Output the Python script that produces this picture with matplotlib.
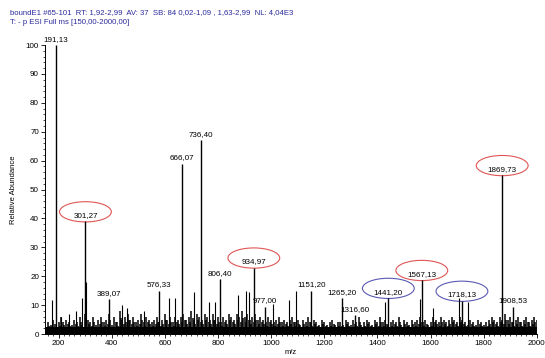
import numpy as np
import matplotlib.pyplot as plt
from matplotlib.patches import Ellipse
from matplotlib.ticker import MultipleLocator

plt.rcParams['font.family'] = ['Liberation Sans', 'DejaVu Sans']

# labelled peaks (m/z, relative abundance)
label_mz = [191.13, 301.27, 389.07, 576.33, 666.07, 736.40, 806.40, 934.97, 977.00,
            1151.20, 1265.20, 1316.60, 1441.20, 1567.13, 1718.13, 1869.73, 1908.53]
label_int = [100, 39, 12, 15, 59, 67, 19, 23, 9.5,
             15, 12.5, 6.5, 12.5, 18.7, 11.5, 55, 9.5]
label_txt = ['191,13', '301,27', '389,07', '576,33', '666,07', '736,40', '806,40', '934,97', '977,00',
             '1151,20', '1265,20', '1316,60', '1441,20', '1567,13', '1718,13', '1869,73', '1908,53']
red_marked = ['301,27', '934,97', '1567,13', '1869,73']
blue_marked = ['1441,20', '1718,13']

# unlabelled minor peaks
minor_mz = [175, 210, 240, 265, 290, 304, 438, 456, 523, 617, 637, 711, 768, 787,
            875, 906, 918, 1007, 1068, 1094, 1430, 1562, 1611, 1706, 1740]
minor_int = [11.8, 6, 7, 8, 12.5, 18, 10, 9, 8, 12.4, 12.4, 14.5, 11, 11,
             13.5, 15, 14.5, 10.5, 11.8, 15, 11, 12, 9, 12.5, 11]

# baseline noise, one value every 10 m/z from 160
noise_start = 160
noise_int = [4, 3, 5, 2, 4, 6, 3, 5, 4, 3,
             5, 4, 6, 3, 7, 5, 4, 6, 3, 5,
             6, 4, 5, 7, 3, 6, 4, 8, 5, 6,
             7, 5, 6, 4, 5, 7, 4, 6, 5, 4,
             5, 6, 4, 5, 7, 5, 6, 4, 6, 5,
             6, 7, 5, 6, 8, 5, 7, 6, 5, 7,
             6, 5, 7, 5, 6, 4, 6, 5, 7, 6,
             5, 7, 6, 8, 6, 7, 5, 6, 7, 5,
             6, 5, 4, 6, 5, 4, 5, 6, 4, 5,
             4, 5, 6, 4, 5, 3, 5, 4, 6, 4,
             5, 4, 3, 5, 4, 3, 4, 5, 3, 4,
             4, 3, 5, 4, 3, 5, 4, 6, 3, 4,
             5, 4, 3, 5, 4, 6, 4, 5, 3, 4,
             5, 4, 6, 3, 5, 4, 3, 5, 4, 5,
             6, 4, 5, 3, 4, 6, 5, 4, 6, 5,
             4, 5, 6, 5, 4, 6, 5, 4, 3, 5,
             4, 3, 5, 4, 3, 4, 5, 6, 5, 4,
             6, 5, 7, 5, 6, 4, 5, 6, 4, 5,
             6, 4, 5, 6, 5]
noise_mz = noise_start + 10 * np.arange(len(noise_int))

header1 = 'boundE1 #65-101  RT: 1,92-2,99  AV: 37  SB: 84 0,02-1,09 , 1,63-2,99  NL: 4,04E3'
header2 = 'T: - p ESI Full ms [150,00-2000,00]'

fig = plt.figure(figsize=(5.45, 3.58), dpi=100)
ax = fig.add_axes([0.083, 0.067, 0.902, 0.807])

# dense baseline
ax.vlines(noise_mz, 0, noise_int, color='black', linewidth=1.1)
ax.vlines(noise_mz + 5, 0, np.array(noise_int) * 0.7, color='black', linewidth=1.1)
ax.axhspan(0, 2.5, color='black', lw=0)
ax.vlines(minor_mz, 0, minor_int, color='black', linewidth=0.8)
ax.vlines(label_mz, 0, label_int, color='black', linewidth=1.0)

for mz, it, t in zip(label_mz, label_int, label_txt):
    ax.text(mz, it + 0.8, t, ha='center', va='bottom', fontsize=5.8, clip_on=False)
    if t in red_marked or t in blue_marked:
        col = '#e05555' if t in red_marked else '#5a5ab4'
        ax.add_patch(Ellipse((mz, it + 3.3), 195, 7, fill=False, edgecolor=col,
                             linewidth=0.8, clip_on=False))

ax.set_xlim(150, 2000)
ax.set_ylim(0, 100)
ax.xaxis.set_major_locator(MultipleLocator(200))
ax.xaxis.set_minor_locator(MultipleLocator(20))
ax.yaxis.set_major_locator(MultipleLocator(10))
ax.yaxis.set_minor_locator(MultipleLocator(2))
ax.tick_params(axis='both', which='major', labelsize=5.8, length=3, width=0.6, pad=1.5)
ax.tick_params(axis='both', which='minor', length=1.5, width=0.5)
for s in ['top', 'right']:
    ax.spines[s].set_visible(False)
for s in ['left', 'bottom']:
    ax.spines[s].set_linewidth(0.7)

ax.set_xlabel('m/z', fontsize=5.5, labelpad=1)
ax.set_ylabel('Relative Abundance', fontsize=5.5, labelpad=6)

fig.text(10 / 545, 1 - 13 / 358, header1, fontsize=5.6, color='#2b2b9c', va='center')
fig.text(10 / 545, 1 - 22 / 358, header2, fontsize=5.6, color='#2b2b9c', va='center')

fig.savefig('out.png', dpi=100)
